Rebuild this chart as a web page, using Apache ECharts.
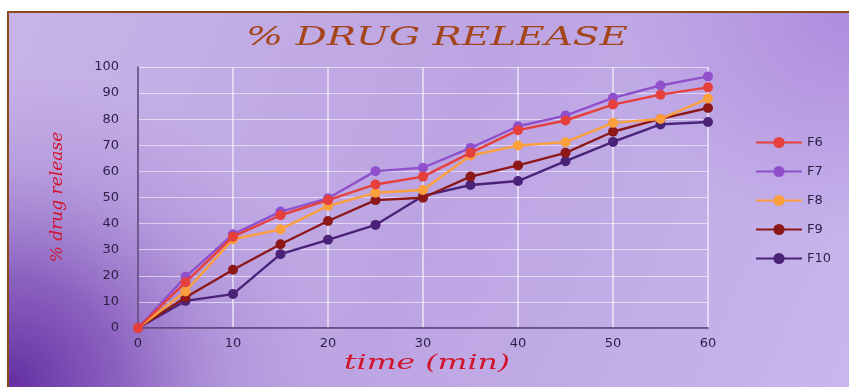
<!DOCTYPE html>
<html>
<head>
<meta charset="utf-8">
<script src="https://cdn.jsdelivr.net/npm/echarts@6/dist/echarts.min.js"></script>
<style>
  html, body { margin: 0; padding: 0; background: #ffffff; }
  #chart { width: 849px; height: 387px; }
</style>
</head>
<body>
<div id="chart"></div>
<script>
// Sampling times (min)
const timeMin = [0, 5, 10, 15, 20, 25, 30, 35, 40, 45, 50, 55, 60];

// Cumulative % drug release per formulation
const F6  = [0, 17.5, 35.0, 43.2, 49.0, 55.0, 58.0, 67.1, 75.8, 79.5, 85.6, 89.4, 92.2];
const F7  = [0, 19.6, 35.9, 44.6, 49.7, 60.1, 61.4, 69.0, 77.3, 81.4, 88.2, 92.9, 96.4];
const F8  = [0, 14.0, 34.0, 37.8, 46.8, 51.8, 52.9, 66.1, 69.9, 71.2, 78.6, 80.1, 87.9];
const F9  = [0, 11.7, 22.3, 32.1, 41.0, 49.0, 49.9, 58.0, 62.3, 67.1, 75.2, 80.1, 84.3];
const F10 = [0, 10.4, 13.0, 28.3, 33.8, 39.5, 50.6, 54.8, 56.3, 63.9, 71.3, 78.0, 78.9];

const seriesNames = ['F6', 'F7', 'F8', 'F9', 'F10'];
const seriesData = [F6, F7, F8, F9, F10];
const seriesColors = ['#e6403c', '#9050cc', '#fb9e3c', '#8c1818', '#4a2378'];

const chart = echarts.init(document.getElementById('chart'), null, { renderer: 'canvas' });

const series = seriesNames.map((name, i) => ({
  name: name,
  type: 'line',
  data: timeMin.map((t, k) => [t, seriesData[i][k]]),
  symbol: 'circle',
  symbolSize: 10,
  lineStyle: { width: 2.4, color: seriesColors[i] },
  itemStyle: { color: seriesColors[i] },
  emphasis: { disabled: true },
  z: 10 - i
}));

chart.setOption({
  animation: false,
  graphic: [
    // panel background
    {
      type: 'rect', silent: true, z: -10,
      shape: { x: 8, y: 12, width: 841, height: 375 },
      style: {
        fill: new echarts.graphic.LinearGradient(0, 0, 1, 1, [
          { offset: 0, color: '#c8b4e8' },
          { offset: 0.5, color: '#bca4e2' },
          { offset: 1, color: '#c8b6ec' }
        ])
      }
    },
    // darker wash rising from the lower left corner
    {
      type: 'rect', silent: true, z: -9,
      shape: { x: 8, y: 12, width: 841, height: 375 },
      style: {
        fill: new echarts.graphic.RadialGradient(0.0, 1.0, 0.85, [
          { offset: 0, color: 'rgba(98,45,160,1)' },
          { offset: 0.35, color: 'rgba(115,65,175,0.7)' },
          { offset: 0.7, color: 'rgba(140,100,195,0.25)' },
          { offset: 1, color: 'rgba(150,110,200,0)' }
        ])
      }
    },
    // slightly deeper tone in the upper right
    {
      type: 'rect', silent: true, z: -9,
      shape: { x: 8, y: 12, width: 841, height: 375 },
      style: {
        fill: new echarts.graphic.RadialGradient(1.0, 0.0, 0.6, [
          { offset: 0, color: 'rgba(160,115,215,0.6)' },
          { offset: 1, color: 'rgba(160,115,215,0)' }
        ])
      }
    },
    // frame lines
    {
      type: 'polyline', silent: true, z: -8,
      shape: { points: [[8, 387], [8, 12], [849, 12]] },
      style: { stroke: '#8a4a1c', lineWidth: 2, fill: null }
    },
    // chart title
    {
      type: 'text', silent: true,
      x: 437, y: 38, scaleX: 1.5,
      style: {
        text: '% DRUG RELEASE',
        fill: '#a5451c',
        font: 'italic 26px "DejaVu Serif", serif',
        align: 'center', verticalAlign: 'middle'
      }
    },
    // y axis title
    {
      type: 'text', silent: true,
      x: 58, y: 197, rotation: Math.PI / 2,
      style: {
        text: '% drug release',
        fill: '#d2142a',
        font: 'italic 17px "DejaVu Serif", serif',
        align: 'center', verticalAlign: 'middle'
      }
    },
    // x axis title
    {
      type: 'text', silent: true,
      x: 427, y: 364, scaleX: 1.5,
      style: {
        text: 'time (min)',
        fill: '#d2142a',
        font: 'italic 21px "DejaVu Serif", serif',
        align: 'center', verticalAlign: 'middle'
      }
    }
  ],
  legend: {
    orient: 'vertical',
    right: 13, top: 131,
    itemGap: 16,
    itemWidth: 46, itemHeight: 14,
    data: seriesNames.map(n => ({ name: n })),
    textStyle: { color: '#2a1f45', fontSize: 13, fontFamily: '"DejaVu Sans", sans-serif' }
  },
  grid: { left: 138, right: 141, top: 67, bottom: 59, containLabel: false },
  xAxis: {
    type: 'value', min: 0, max: 60, interval: 10,
    axisLine: { show: true, lineStyle: { color: '#4c3572', width: 1.5 } },
    axisTick: { show: false },
    axisLabel: { color: '#2a1f45', fontSize: 13, margin: 9, fontFamily: '"DejaVu Sans", sans-serif' },
    splitLine: { show: true, lineStyle: { color: 'rgba(255,255,255,0.7)', width: 1.5 } }
  },
  yAxis: {
    type: 'value', min: 0, max: 100, interval: 10,
    axisLine: { show: true, lineStyle: { color: '#4c3572', width: 1.5 } },
    axisTick: { show: false },
    axisLabel: { color: '#2a1f45', fontSize: 13, margin: 19, fontFamily: '"DejaVu Sans", sans-serif' },
    splitLine: { show: true, lineStyle: { color: 'rgba(255,255,255,0.55)', width: 1.2 } }
  },
  series: series
});
</script>
</body>
</html>
